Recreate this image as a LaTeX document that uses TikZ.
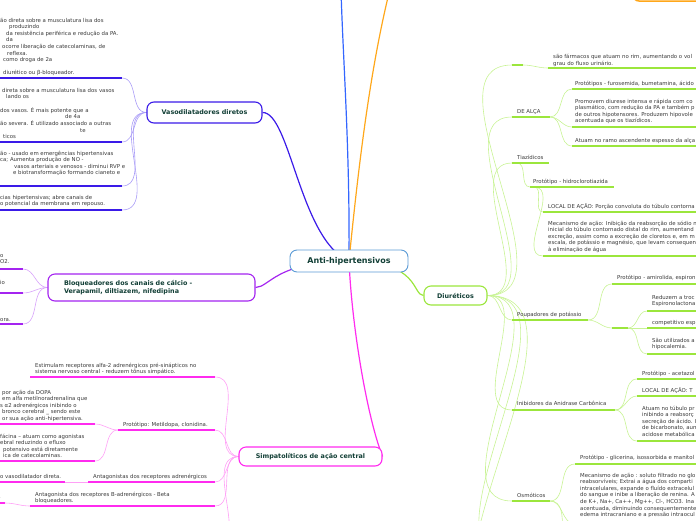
\documentclass[tikz,border=0pt]{standalone}
\usepackage{fontspec}
\setmainfont{DejaVu Sans}
\usetikzlibrary{backgrounds}
\definecolor{bodyc}{HTML}{3A3A3A}
\definecolor{ttlc}{HTML}{123F36}
\definecolor{vaso}{HTML}{3A1AE8}
\definecolor{vasol}{HTML}{A99CF7}
\definecolor{bloq}{HTML}{A424F0}
\definecolor{bloql}{HTML}{D7A2FA}
\definecolor{simp}{HTML}{FF2BEF}
\definecolor{simpl}{HTML}{FFA0F6}
\definecolor{diur}{HTML}{9BE63C}
\definecolor{diurl}{HTML}{C8F394}
\definecolor{rootc}{HTML}{5B9BD5}
\definecolor{topb}{HTML}{3366FF}
\definecolor{orng}{HTML}{FFA71A}
\newcommand{\ml}[1]{\begin{tabular}[t]{@{}l@{}}#1\end{tabular}}
\newcommand{\ulc}[5]{\coordinate (#1s) at (#3,#5); \coordinate (#1e) at (#4,#5); \draw[ul,#2] (#1s) -- (#1e);}
\begin{document}
\begin{tikzpicture}[x=1pt,y=-1pt,
  txt/.style={anchor=base west,inner sep=0pt,font=\fontsize{5.4}{6.6}\selectfont,text=bodyc},
  topic/.style={draw,rounded corners=7pt,fill=white,line width=1.1pt,text=ttlc,
     font=\bfseries\fontsize{6.4}{8}\selectfont,inner sep=0pt},
  ul/.style={line width=1.7pt},
  cn/.style={line width=0.6pt},
  br/.style={line width=1.2pt}]
\useasboundingbox (0,0) rectangle (696,520);
\clip (0,0) rectangle (696,520);

% ---------- main topics ----------
\node[topic,draw=rootc,line width=0.9pt,minimum width=118pt,minimum height=22pt,
      font=\bfseries\fontsize{8}{10}\selectfont] (root) at (349,261) {Anti-hipertensivos};
\node[topic,draw=vaso,minimum width=115pt,minimum height=21pt] (vaso) at (204.5,112.5) {Vasodilatadores diretos};
\node[topic,draw=bloq,minimum width=207pt,minimum height=27pt,text width=175pt,align=left] (bloq) at (151.5,287.5)
  {Bloqueadores dos canais de cálcio -\\Verapamil, diltiazem, nifedipina};
\node[topic,draw=simp,minimum width=143pt,minimum height=19pt] (simp) at (310.5,456.5) {Simpatolíticos de ação central};
\node[topic,draw=diur,minimum width=63pt,minimum height=19pt] (diur) at (455.5,295.5) {Diuréticos};
\draw[orng,line width=1.5pt,fill=white,rounded corners=6pt] (633,-30) rectangle (720,1);
\coordinate (topnode) at (341,-10);
\coordinate (orngnode) at (391,-15);

% ---------- Vasodilatadores children ----------
\node[txt] (v1) at (0,22) {\ml{ão direta sobre a musculatura lisa dos\\
 \hspace*{9pt}produzindo\\ \hspace*{6pt}da resistência periférica e redução da PA.\\
 \hspace*{6pt}da\\ \hspace*{2pt}ocorre liberação de catecolaminas, de\\ \hspace*{7pt}reflexa.\\
 \hspace*{3pt}como droga de 2a\\ \\ \hspace*{3pt}diurético ou β-bloqueador.}};
\ulc{v1}{vaso}{-5}{122}{78}
\node[txt] (v2) at (0,92) {\ml{\hspace*{2pt}direta sobre a musculatura lisa dos vasos\\
 \hspace*{6pt}lando os\\ \\ dos vasos. É mais potente que a\\ \hspace*{65pt}de 4a\\
 ão severa. É utilizado associado a outras\\ \hspace*{80pt}te\\ \hspace*{3pt}ticos}};
\ulc{v2}{vaso}{-5}{122}{142}
\node[txt] (v3) at (0,155) {\ml{ão - usado em emergências hipertensivas\\ ca; Aumenta produção de NO -\\
 \hspace*{14pt}vasos arteriais e venosos - diminui RVP e\\ \hspace*{13pt}e biotransformação formando cianeto e}};
\ulc{v3}{vaso}{-5}{122}{186}
\node[txt] (v4) at (0,199) {\ml{cias hipertensivas; abre canais de\\ o potencial da membrana em repouso.}};
\ulc{v4}{vaso}{-5}{122}{210}

% ---------- Bloqueadores children ----------
\node[txt] (b1) at (0,257) {\ml{o\\ O2.}};
\ulc{b1}{bloq}{-5}{23}{269}
\node[txt] (b2) at (0,284) {io};
\ulc{b2}{bloq}{-5}{23}{293}
\node[txt] (b3) at (0,321) {ora.};
\ulc{b3}{bloq}{-5}{23}{324}

% ---------- Simpatoliticos children ----------
\node[txt] (s1) at (35,367) {\ml{Estimulam receptores alfa-2 adrenérgicos pré-sinápticos no\\
 sistema nervoso central - reduzem tônus simpático.}};
\ulc{s1}{simp}{30}{215}{377}
\node[txt] (s2) at (123,426) {Protótipo: Metildopa, clonidina.};
\ulc{s2}{simp}{118}{215}{430}
\node[txt] (s2a) at (2,394) {\ml{por ação da DOPA\\ em alfa metilnoradrenalina que\\
 \hspace*{-2pt}s α2 adrenérgicos inibindo o\\ bronco cerebral \_ sendo este\\ or sua ação anti-hipertensiva.}};
\ulc{s2a}{simp}{-5}{95}{424}
\node[txt] (s2b) at (0,438) {\ml{fácina – atuam como agonistas\\ ebral reduzindo o efluxo\\
 \hspace*{3pt}potensivo está diretamente\\ \hspace*{3pt}ica de catecolaminas.}};
\ulc{s2b}{simp}{-5}{95}{461}
\node[txt] (s3) at (93,478) {Antagonistas dos receptores adrenérgicos};
\ulc{s3}{simp}{88}{215}{482}
\node[txt] (s3a) at (0,478) {o vasodilatador direta.};
\ulc{s3a}{simp}{-5}{65}{482}
\node[txt] (s4) at (35,496) {\ml{Antagonista dos receptores B-adrenérgicos - Beta\\ bloqueadores.}};
\ulc{s4}{simp}{30}{215}{506}
\node[txt] (s4a) at (-1,498) {.};
\ulc{s4a}{simp}{-5}{5}{503}
\coordinate (s5e) at (215,548);

% ---------- Diureticos children ----------
\ulc{d0}{diur}{512}{523}{65}
\node[txt,font=\fontsize{5.4}{7.6}\selectfont] (d0a) at (553,58) {\ml{são fármacos que atuam no rim, aumentando o vol\\ grau do fluxo urinário.}};
\ulc{d0a}{diur}{548}{700}{68}

\node[txt] (alca) at (517,113) {DE ALÇA};
\ulc{alca}{diur}{512}{550}{117}
\node[txt] (alca1) at (575,85) {Protótipos - furosemida, bumetamina, ácido};
\ulc{alca1}{diur}{572}{700}{89}
\node[txt] (alca2) at (575,103) {\ml{Promovem diurese intensa e rápida com co\\ plasmático, com redução da PA e também p\\
 de outros hipotensores. Produzem hipovole\\ acentuada que os tiazídicos.}};
\ulc{alca2}{diur}{572}{700}{127}
\node[txt] (alca3) at (575,142) {Atuam no ramo ascendente espesso da alça};
\ulc{alca3}{diur}{572}{700}{146}

\node[txt] (tiaz) at (517,159) {Tiazídicos};
\ulc{tiaz}{diur}{512}{549}{163}
\coordinate (tiazm) at (517,163);
\node[txt] (tiaz1) at (533,183) {Protótipo - hidroclorotiazida};
\ulc{tiaz1}{diur}{530}{614}{187}
\coordinate (tiaz1m) at (534,187);
\node[txt] (tiaz1a) at (548,208) {LOCAL DE AÇÃO: Porção convoluta do túbulo contorna};
\ulc{tiaz1a}{diur}{543}{700}{212}
\node[txt] (tiaz1b) at (548,225) {\ml{Mecanismo de ação: Inibição da reabsorção de sódio n\\
 inicial do túbulo contornado distal do rim, aumentand\\ excreção, assim como a excreção de cloretos e, em m\\
 escala, de potássio e magnésio, que levam consequen\\ à eliminação de água}};
\ulc{tiaz1b}{diur}{543}{700}{256}

\node[txt] (poup) at (517,316) {Poupadores de potássio};
\ulc{poup}{diur}{512}{588}{320}
\node[txt] (poup1) at (617,279) {Protótipo - amirolida, espiron};
\ulc{poup1}{diur}{612}{700}{284}
\ulc{poup2}{diur}{612}{628}{328}
\node[txt] (poup2a) at (652,299) {\ml{Reduzem a troc\\ Espironolactona}};
\ulc{poup2a}{diur}{647}{700}{311}
\node[txt] (poup2b) at (652,324) {competitivo esp};
\ulc{poup2b}{diur}{647}{700}{328}
\node[txt] (poup2c) at (652,342) {\ml{São utilizados a\\ hipocalemia.}};
\ulc{poup2c}{diur}{647}{700}{354}

\node[txt] (inib) at (517,405) {Inibidores da Anidrase Carbônica};
\ulc{inib}{diur}{512}{615}{410}
\node[txt] (inib1) at (642,375) {Protótipo - acetazol};
\ulc{inib1}{diur}{637}{700}{379}
\node[txt] (inib2) at (642,392) {LOCAL DE AÇÃO: T};
\ulc{inib2}{diur}{637}{700}{396}
\node[txt] (inib3) at (642,410) {\ml{Atuam no túbulo pr\\ inibindo a reabsorç\\ secreção de ácido. I\\
 de bicarbonato, aum\\ acidose metabólica}};
\ulc{inib3}{diur}{637}{700}{441}

\node[txt] (osm) at (517,497) {Osmóticos};
\ulc{osm}{diur}{512}{550}{501}
\node[txt] (osm1) at (580,459) {Protótipo - glicerina, isossorbida e manitol};
\ulc{osm1}{diur}{575}{700}{464}
\node[txt] (osm2) at (580,477) {\ml{Mecanismo de ação : soluto filtrado no glo\\ reabsorvíveis; Extrai a água dos comparti\\
 intracelulares, expande o fluído extracelul\\ do sangue e inibe a liberação de renina. A\\
 de K+, Na+, Ca++, Mg++, Cl-, HCO3. Ina\\ acentuada, diminuindo consequentemente\\ edema intracraniano e a pressão intraocul}};
\coordinate (osm2s) at (575,524);
\coordinate (osm3s) at (575,560);
\coordinate (d7s) at (512,560);
\coordinate (d8s) at (512,620);

% ---------- connectors ----------
\begin{pgfonlayer}{background}
\draw[br,topb] (root.center) .. controls (350,150) and (343,60) .. (topnode);
\draw[br,orng] (root.center) .. controls (360,150) and (372,60) .. (orngnode);
\draw[br,vaso] (root.center) .. controls (300,240) and (290,112) .. (vaso.east);
\draw[br,bloq] (root.center) .. controls (275,262) and (270,287) .. (bloq.east);
\draw[br,simp] (root.center) .. controls (352,330) and (368,420) .. (simp.east);
\draw[br,diur] (root.center) .. controls (420,261) and (412,295) .. (diur.west);

\foreach \c in {v1e,v2e,v3e,v4e} \draw[cn,vasol] (\c) to[out=0,in=180] (vaso.west);
\foreach \c in {b1e,b2e,b3e} \draw[cn,bloql] (\c) to[out=0,in=180] (bloq.west);
\foreach \c in {s1e,s2e,s3e,s4e,s5e} \draw[cn,simpl] (\c) to[out=0,in=180] (simp.west);
\foreach \c in {s2ae,s2be} \draw[cn,simpl] (\c) to[out=0,in=180] (s2s);
\draw[cn,simpl] (s3ae) -- (s3s);
\draw[cn,simpl] (s4ae) to[out=0,in=180] (s4s);

\foreach \c in {d0s,alcas,tiazs,poups,inibs,osms,d7s,d8s} \draw[cn,diurl] (diur.east) to[out=0,in=180] (\c);
\draw[cn,diurl] (d0e) to[out=0,in=180] (d0as);
\foreach \c in {alca1s,alca2s,alca3s} \draw[cn,diurl] (alcae) to[out=0,in=180] (\c);
\draw[cn,diurl] (tiazm) to[out=0,in=180] (tiaz1s);
\foreach \c in {tiaz1as,tiaz1bs} \draw[cn,diurl] (tiaz1m) to[out=0,in=180] (\c);
\foreach \c in {poup1s,poup2s} \draw[cn,diurl] (poupe) to[out=0,in=180] (\c);
\foreach \c in {poup2as,poup2cs} \draw[cn,diurl] (poup2e) to[out=0,in=180] (\c);
\draw[cn,diurl] (poup2e) -- (poup2bs);
\foreach \c in {inib1s,inib2s,inib3s} \draw[cn,diurl] (inibe) to[out=0,in=180] (\c);
\foreach \c in {osm1s,osm2s,osm3s} \draw[cn,diurl] (osme) to[out=0,in=180] (\c);
\end{pgfonlayer}
\end{tikzpicture}
\end{document}
